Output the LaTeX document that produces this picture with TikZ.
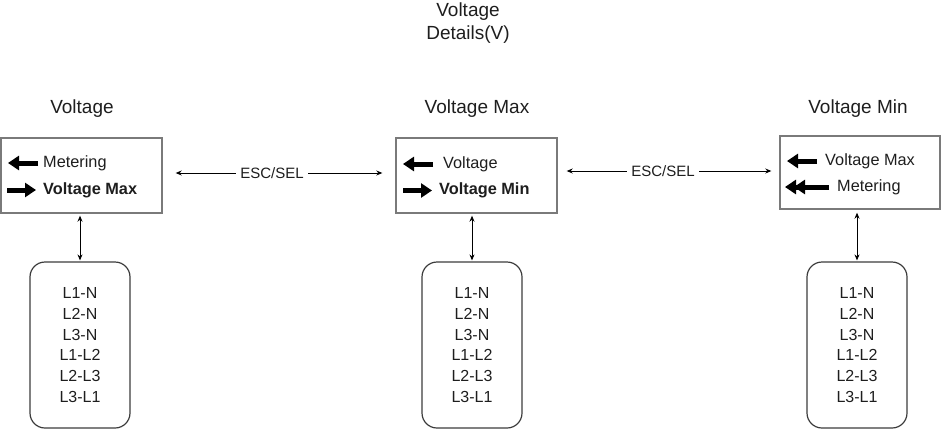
\documentclass[tikz,border=0pt]{standalone}
\usepackage{fontspec}
\setmainfont{Liberation Sans}
\usepackage{xcolor}
\definecolor{framegray}{HTML}{7A7A7A}
\definecolor{listgray}{HTML}{3C3C3C}
\definecolor{inkdark}{HTML}{1E1E1E}
\usepackage{tikz}
\usetikzlibrary{positioning,arrows.meta,calc}

\begin{document}
\begin{tikzpicture}[x=1pt, y=-1pt,
    screen/.style={draw=framegray, line width=1.4pt, minimum width=161pt,
                   minimum height=75pt, inner sep=0pt},
    listbox/.style={draw=listgray, line width=1.2pt, rounded corners=15pt,
                    minimum width=100pt, minimum height=166pt, align=center,
                    text=inkdark, font=\fontsize{16}{20.7}\selectfont},
    caption/.style={text=inkdark, font=\fontsize{19}{23}\selectfont, align=center},
    entry/.style={anchor=west, inner sep=0pt, text=inkdark,
                  font=\fontsize{16.3}{19}\selectfont},
    fat/.style={line width=5pt, -{Triangle[length=11pt, width=14pt]}},
    fatdouble/.style={line width=5pt,
                      -{Triangle[length=11pt, width=14pt, sep=-2pt]Triangle[length=11pt, width=14pt]}},
    link/.style={line width=0.8pt,
                 {Stealth[length=6pt, width=5pt]}-{Stealth[length=6pt, width=5pt]}},
    tag/.style={fill=white, inner sep=4pt, text=inkdark,
                font=\fontsize{15}{18}\selectfont}]
  \useasboundingbox (0,0) rectangle (941,429);

  % heading
  \node[caption] (head) at (468,23.5) {Voltage\\Details(V)};

  % screen titles
  \node[caption] (t1) at (82,109) {Voltage};
  \node[caption] (t2) at (477,109) {Voltage Max};
  \node[caption] (t3) at (858,109) {Voltage Min};

  % screens
  \node[screen] (b1) at (81.5,175.5) {};
  \node[screen] (b2) at (476.5,175.5) {};
  \node[screen, minimum width=160pt, minimum height=73pt] (b3) at (860,172.5) {};

  % screen entries
  \node[entry] (e11) at (43,163) {Metering};
  \node[entry] (e12) at (43,190) {\textbf{Voltage Max}};
  \draw[fat] (38,163) -- (8,163);
  \draw[fat] (7,190) -- (36,190);

  \node[entry] (e21) at (443,164) {Voltage};
  \node[entry] (e22) at (439,190) {\textbf{Voltage Min}};
  \draw[fat] (433,164) -- (403,164);
  \draw[fat] (403,190.5) -- (432,190.5);

  \node[entry] (e31) at (825,161) {Voltage Max};
  \node[entry] (e32) at (837,187) {Metering};
  \draw[fat] (817,161) -- (787,161);
  \draw[fatdouble] (829,187) -- (785,187);

  % value lists
  \node[listbox] (l1) at (80,345) {L1-N\\L2-N\\L3-N\\L1-L2\\L2-L3\\L3-L1};
  \node[listbox] (l2) at (472,345) {L1-N\\L2-N\\L3-N\\L1-L2\\L2-L3\\L3-L1};
  \node[listbox] (l3) at (857,345) {L1-N\\L2-N\\L3-N\\L1-L2\\L2-L3\\L3-L1};

  % navigation
  \draw[link, shorten <=13pt, shorten >=13pt] ([yshift=2.5pt]b1.east) -- ([yshift=2.5pt]b2.west)
    node[tag, pos=0.47] {ESC/SEL};
  \draw[link, shorten <=9pt, shorten >=8pt] ([yshift=4.5pt]b2.east) -- ([yshift=4.5pt]b2.east -| b3.west)
    node[tag, pos=0.475] {ESC/SEL};
  \draw[link, shorten <=2pt, shorten >=1pt] (l1.north |- b1.south) -- (l1.north);
  \draw[link, shorten <=2pt, shorten >=1pt] (l2.north |- b2.south) -- (l2.north);
  \draw[link, shorten <=3pt, shorten >=1pt] (l3.north |- b3.south) -- (l3.north);
\end{tikzpicture}
\end{document}
